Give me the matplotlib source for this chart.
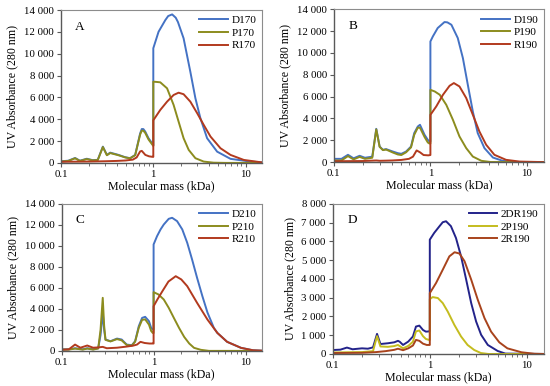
import matplotlib
matplotlib.use("Agg")
import matplotlib.pyplot as plt
from matplotlib.ticker import FuncFormatter, LogLocator, NullFormatter, FixedLocator

plt.rcParams["font.family"] = ["Liberation Serif", "DejaVu Serif"]

# ---- panel A ----
A_D_mass = [0.1, 0.12, 0.142, 0.16, 0.19, 0.22, 0.25, 0.284, 0.314, 0.341, 0.42, 0.496, 0.56, 0.636,
            0.72, 0.75, 0.78, 0.817, 0.887, 0.97, 1.0, 1.0, 1.14, 1.35, 1.45, 1.6, 1.75, 1.85, 2.13,
            2.52, 2.86, 3.24, 3.83, 4.92, 6.87, 11.3, 15]
A_D_val = [150, 200, 450, 200, 380, 250, 280, 1490, 730, 940, 730, 520, 430, 730,
           2700, 3100, 3100, 2870, 2260, 1800, 1600, 10500, 12010, 13080, 13450, 13600, 13300, 12900, 11410,
           8350, 5920, 4090, 2260, 1030, 370, 120, 50]
A_P_mass = [0.1, 0.12, 0.142, 0.16, 0.19, 0.22, 0.25, 0.284, 0.314, 0.341, 0.42, 0.496, 0.56, 0.636,
            0.72, 0.75, 0.78, 0.817, 0.887, 0.97, 1.0, 1.0, 1.1, 1.19, 1.41, 1.66, 1.88, 2.13, 2.42,
            2.86, 3.52, 4.5, 6.0, 15]
A_P_val = [120, 180, 420, 180, 350, 230, 260, 1450, 700, 900, 700, 500, 420, 700,
           2600, 2950, 2950, 2750, 2150, 1700, 1550, 7440, 7410, 7380, 6830, 5310, 3780, 2260, 1190,
           430, 120, 20, 0, 0]
A_R_mass = [0.1, 0.2, 0.3, 0.4, 0.5, 0.6, 0.66, 0.72, 0.75, 0.82, 0.9, 0.97, 1.0, 1.0, 1.19, 1.41,
            1.66, 1.88, 2.13, 2.52, 2.99, 3.52, 4.17, 5.35, 6.87, 9.58, 14.6, 15]
A_R_val = [100, 120, 150, 180, 220, 300, 500, 1050, 1100, 730, 600, 560, 550, 3900, 4850, 5610,
           6220, 6430, 6290, 5610, 4550, 3480, 2410, 1340, 730, 270, 60, 50]

# ---- panel B ----
B_D_mass = [0.1, 0.12, 0.14, 0.16, 0.185, 0.21, 0.25, 0.275, 0.298, 0.322, 0.348, 0.408, 0.46, 0.5,
            0.56, 0.63, 0.68, 0.74, 0.78, 0.87, 0.94, 0.977, 1.0, 1.0, 1.06, 1.19, 1.40, 1.5, 1.65,
            1.92, 2.17, 2.44, 2.75, 3.09, 3.63, 4.44, 5.6, 7.0, 15]
B_D_val = [300, 300, 670, 350, 580, 400, 500, 3050, 1430, 1130, 1190, 970, 820, 760,
           970, 1430, 2660, 3260, 3420, 2500, 2040, 1890, 1890, 11050, 11510, 12280, 12830, 12800, 12580,
           11370, 9530, 7090, 4640, 2660, 1280, 420, 120, 20, 0]
B_P_mass = [0.1, 0.12, 0.14, 0.16, 0.185, 0.21, 0.25, 0.275, 0.298, 0.322, 0.348, 0.408, 0.46, 0.5,
            0.56, 0.63, 0.68, 0.74, 0.78, 0.87, 0.94, 0.977, 1.0, 1.0, 1.11, 1.25, 1.46, 1.71, 2.0,
            2.35, 2.75, 3.37, 4.2, 15]
B_P_val = [150, 150, 550, 250, 480, 300, 400, 3000, 1400, 1100, 1150, 880, 700, 650,
           900, 1350, 2500, 3150, 3150, 2300, 1800, 1700, 1700, 6620, 6470, 6170, 5250, 3880, 2350,
           1280, 510, 120, 10, 0]
B_R_mass = [0.1, 0.2, 0.275, 0.3, 0.4, 0.5, 0.6, 0.66, 0.72, 0.78, 0.85, 0.95, 1.0, 1.0, 1.15, 1.35,
            1.58, 1.75, 2.0, 2.35, 2.75, 3.22, 3.78, 4.6, 6.07, 8.4, 15]
B_R_val = [80, 100, 150, 120, 150, 200, 300, 500, 1070, 900, 650, 620, 650, 4330, 5100, 6170,
           6990, 7240, 6930, 5870, 4340, 2800, 1590, 670, 210, 50, 0]

# ---- panel C ----
C_D_mass = [0.1, 0.12, 0.14, 0.17, 0.19, 0.22, 0.25, 0.265, 0.28, 0.29, 0.3, 0.34, 0.4, 0.45, 0.51,
            0.58, 0.63, 0.69, 0.75, 0.81, 0.89, 0.94, 0.98, 1.0, 1.0, 1.09, 1.19, 1.29, 1.46, 1.59,
            1.80, 2.05, 2.32, 2.62, 2.97, 3.39, 3.85, 4.52, 4.93, 6.3, 8.9, 12, 15]
C_D_val = [150, 150, 250, 150, 250, 150, 250, 1500, 3680, 2000, 1080, 920, 1170, 1080, 600,
           540, 920, 2350, 3140, 3240, 2830, 2190, 2030, 2030, 10130, 10920, 11560, 12030, 12570, 12670,
           12350, 11560, 10290, 8700, 6950, 5210, 3650, 2190, 1710, 860, 290, 60, 20]
C_P_mass = [0.1, 0.12, 0.14, 0.17, 0.19, 0.22, 0.25, 0.265, 0.28, 0.29, 0.3, 0.34, 0.4, 0.45, 0.51,
            0.58, 0.63, 0.69, 0.75, 0.81, 0.89, 0.94, 0.98, 1.0, 1.0, 1.13, 1.29, 1.46, 1.66, 1.89,
            2.15, 2.44, 2.75, 3.26, 4.0, 15]
C_P_val = [120, 120, 220, 120, 220, 120, 230, 2000, 5050, 2400, 1050, 900, 1120, 1000, 560,
           500, 880, 2200, 2950, 3000, 2500, 1900, 1700, 1700, 5590, 5370, 4890, 4100, 3140, 2190,
           1330, 700, 290, 100, 0, 0]
C_R_mass = [0.1, 0.12, 0.14, 0.16, 0.19, 0.22, 0.25, 0.28, 0.31, 0.4, 0.5, 0.6, 0.66, 0.72, 0.8,
            0.9, 0.98, 1.0, 1.0, 1.1, 1.25, 1.45, 1.74, 2.0, 2.32, 2.97, 3.85, 4.93, 6.3, 8.9, 12, 15]
C_R_val = [100, 150, 600, 300, 510, 300, 330, 380, 250, 300, 400, 500, 600, 860, 750,
           700, 700, 700, 4250, 4900, 5700, 6600, 7110, 6800, 6160, 4570, 2980, 1710, 860, 290, 60, 20]

# ---- panel D ----
D_DR_mass = [0.1, 0.12, 0.14, 0.16, 0.2, 0.23, 0.26, 0.286, 0.31, 0.37, 0.43, 0.47, 0.49, 0.53, 0.6,
             0.67, 0.72, 0.78, 0.85, 0.91, 0.98, 1.0, 1.0, 1.11, 1.26, 1.36, 1.47, 1.65, 1.86, 2.10,
             2.37, 2.67, 3.0, 3.38, 3.96, 5.0, 6.0, 15]
D_DR_val = [210, 230, 340, 250, 300, 280, 350, 1070, 530, 570, 620, 700, 650, 480, 660,
            930, 1460, 1510, 1280, 1190, 1200, 1230, 6090, 6450, 6810, 7020, 7070, 6810, 6180, 5200,
            3960, 2710, 1730, 1020, 480, 160, 20, 0]
D_P_mass = [0.1, 0.2, 0.26, 0.286, 0.31, 0.37, 0.43, 0.47, 0.53, 0.6, 0.67, 0.72, 0.78, 0.85, 0.91,
            0.98, 1.0, 1.0, 1.07, 1.21, 1.36, 1.53, 1.79, 2.10, 2.45, 2.87, 3.36, 4.0, 15]
D_P_val = [80, 100, 150, 950, 400, 380, 420, 480, 300, 430, 650, 1200, 1250, 950, 800,
           750, 750, 2920, 3030, 2980, 2710, 2260, 1550, 930, 480, 210, 50, 0, 0]
D_R_mass = [0.1, 0.2, 0.28, 0.35, 0.43, 0.47, 0.53, 0.6, 0.67, 0.72, 0.78, 0.85, 0.93, 1.0, 1.0,
            1.16, 1.36, 1.59, 1.80, 2.02, 2.28, 2.67, 3.12, 3.66, 4.28, 5.2, 6.3, 8.8, 12, 15]
D_R_val = [50, 60, 100, 150, 220, 280, 200, 300, 450, 750, 700, 550, 480, 480, 3240,
           3780, 4490, 5200, 5420, 5350, 4940, 3960, 2890, 1910, 1190, 620, 300, 90, 10, 0]

BLUE, OLIVE, RED = "#4472C4", "#8C8C1E", "#B23A1E"
NAVY, YELLOW, BROWN = "#23238A", "#C4BC1E", "#A8431C"

panels = [
    ("A", [0.111, 0.578, 0.365, 0.396], 14000, 2000,
     [(A_D_mass, A_D_val, BLUE, "D170"), (A_P_mass, A_P_val, OLIVE, "P170"), (A_R_mass, A_R_val, RED, "R170")]),
    ("B", [0.607, 0.580, 0.382, 0.396], 14000, 2000,
     [(B_D_mass, B_D_val, BLUE, "D190"), (B_P_mass, B_P_val, OLIVE, "P190"), (B_R_mass, B_R_val, RED, "R190")]),
    ("C", [0.112, 0.091, 0.364, 0.381], 14000, 2000,
     [(C_D_mass, C_D_val, BLUE, "D210"), (C_P_mass, C_P_val, OLIVE, "P210"), (C_R_mass, C_R_val, RED, "R210")]),
    ("D", [0.605, 0.083, 0.384, 0.389], 8000, 1000,
     [(D_DR_mass, D_DR_val, NAVY, "2DR190"), (D_P_mass, D_P_val, YELLOW, "2P190"), (D_R_mass, D_R_val, BROWN, "2R190")]),
]

fig = plt.figure(figsize=(5.5, 3.86), dpi=100)
thousands = FuncFormatter(lambda v, p: f"{int(v):,}".replace(",", " "))

for letter, rect, ymax, ystep, series in panels:
    ax = fig.add_axes(rect)
    for mass, val, col, lab in series:
        ax.plot(mass, val, color=col, lw=1.4, label=lab)
    ax.set_xscale("log")
    ax.set_xlim(0.1, 15)
    ax.set_ylim(0, ymax)
    ax.yaxis.set_major_locator(FixedLocator(range(0, ymax + 1, ystep)))
    ax.yaxis.set_major_formatter(thousands)
    ax.xaxis.set_major_locator(FixedLocator([0.1, 1, 10]))
    ax.xaxis.set_major_formatter(FuncFormatter(lambda v, p: f"{v:g}"))
    ax.xaxis.set_minor_locator(LogLocator(base=10, subs=range(2, 10)))
    ax.xaxis.set_minor_formatter(NullFormatter())
    ax.tick_params(labelsize=7.8, length=3, width=0.8, color="#595959", pad=2)
    ax.tick_params(axis="x", which="minor", length=2, width=0.6, color="#595959")
    for side in ("top", "right"):
        ax.spines[side].set_color("#8c8c8c")
        ax.spines[side].set_linewidth(0.8)
    for side in ("left", "bottom"):
        ax.spines[side].set_color("#595959")
        ax.spines[side].set_linewidth(1.0)
    ax.set_xlabel("Molecular mass (kDa)", fontsize=8.6, labelpad=1)
    ax.set_ylabel("UV Absorbance (280 nm)", fontsize=8.6, labelpad=4)
    ax.text(0.07, 0.89, letter, transform=ax.transAxes, fontsize=9.5, va="center")
    ax.legend(loc="upper right", frameon=False, fontsize=8, handlelength=2.6,
              labelspacing=0.25, handletextpad=0.3, borderaxespad=0.3, borderpad=0.2)

fig.savefig("out.png", dpi=100)
